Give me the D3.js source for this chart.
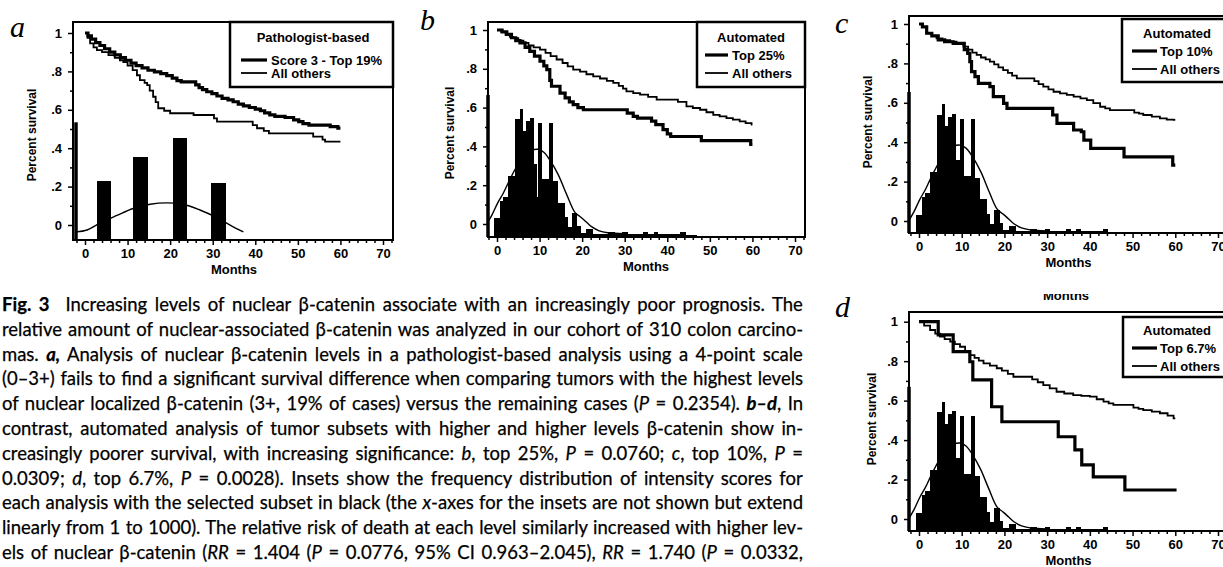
<!DOCTYPE html>
<html>
<head>
<meta charset="utf-8">
<script src="https://cdn.jsdelivr.net/npm/d3@7"></script>
<style>
  body { margin: 0; background: #fff; }
  svg { display: block; }
  .tick text { font: bold 13px "Liberation Sans", Arial, sans-serif; fill: #000; }
  .tick line { stroke: #000; stroke-width: 1.5; }
  .lab { font: bold 13px "Liberation Sans", Arial, sans-serif; fill: #000; }
  .cap { font-family: Lato, "Open Sans", sans-serif; font-size: 18px; fill: #000; stroke: #000; stroke-width: 0.25px; }
</style>
</head>
<body>
<svg id="fig" width="1223" height="567"></svg>
<script>
// Values: [month, survival]
const xTickLabels = [0, 10, 20, 30, 40, 50, 60, 70];
const yTickValues = [0, 0.2, 0.4, 0.6, 0.8, 1];
const legendTitles = ["Pathologist-based", "Automated", "Automated", "Automated"];
const subsetLabels = ["Score 3 - Top 19%", "Top 25%", "Top 10%", "Top 6.7%"];
const othersLabel = "All others";

const survSubsetA = [[0,1],[0.7,.985],[1.5,.968],[2.5,.95],[3.5,.935],[4.6,.918],[5.8,.9],[7,.886],[8.3,.872],
  [9.5,.858],[10.8,.843],[12,.83],[13.4,.818],[14.8,.806],[16.3,.798],[17.8,.788],[19.2,.778],[20.5,.765],
  [21.6,.752],[22.6,.745],[26,.73],[26.8,.716],[27.6,.705],[28.6,.694],[29.8,.684],[31,.672],[32.2,.66],
  [33.6,.652],[34.8,.642],[36,.63],[37.2,.62],[38.6,.612],[40,.604],[41.2,.595],[42.2,.584],[43.4,.574],
  [44.6,.566],[47,.56],[49,.548],[50.2,.538],[51.2,.528],[52.6,.52],[57.6,.512],[59.4,.505],[60,.505]];
const survOthersA = [[0,1],[0.6,.975],[1.2,.946],[2,.925],[2.8,.911],[4,.9],[5.5,.885],[7,.87],[8.2,.858],
  [9,.848],[10,.83],[11.2,.807],[12.2,.78],[12.9,.755],[14,.74],[14.6,.729],[15.2,.7],[16,.668],[16.6,.64],
  [17.2,.608],[18.6,.595],[20,.582],[25.5,.573],[30.3,.555],[31,.538],[39.4,.52],[40.4,.504],[42,.49],
  [43.2,.477],[53.6,.46],[55.8,.445],[56.4,.434],[60,.434]];

const survSubsetB = [[0,1],[1.2,.99],[2.3,.977],[3.4,.96],[4.4,.945],[5.4,.934],[6.6,.91],[7.7,.89],[8.8,.865],
  [10.1,.839],[11,.815],[11.7,.796],[12.4,.74],[12.8,.71],[14.8,.675],[16,.65],[17,.63],[17.9,.615],[19,.6],
  [20.3,.589],[30.6,.572],[32,.555],[33,.546],[36.3,.53],[37.3,.512],[39,.486],[40,.465],[40.8,.451],
  [48,.43],[59.6,.41],[60,.41]];
const survOthersB = [[0,1],[1,.99],[2,.975],[3,.965],[3.8,.958],[5,.945],[6.2,.934],[7.4,.92],[8.6,.91],
  [10.1,.899],[11.4,.882],[12.6,.865],[14,.848],[15.4,.83],[16.6,.812],[17.9,.796],[19.5,.785],[21,.772],
  [22.6,.761],[24.2,.75],[25.8,.738],[27.3,.727],[28.6,.712],[29.6,.698],[30.4,.684],[32,.675],[33.6,.667],
  [35.5,.655],[37.5,.641],[42.5,.63],[44.5,.606],[46,.598],[47.7,.589],[49.2,.576],[50.8,.563],[52.3,.555],
  [53.9,.546],[55.4,.538],[57,.529],[58.4,.52],[59.8,.512],[60,.512]];

const survSubsetC = [[0,1],[0.8,.985],[1.8,.953],[3,.94],[4.5,.919],[6,.91],[8,.902],[10.6,.87],[11.4,.851],
  [11.9,.809],[12.3,.758],[13.1,.733],[13.9,.699],[16.6,.682],[17.4,.631],[19.8,.597],[20.6,.572],
  [31.3,.538],[32.3,.496],[36.2,.462],[38,.453],[38.6,.411],[40.2,.369],[48,.326],[59.4,.284],[60,.284]];
const survOthersC = [[0,1],[0.8,.985],[1.8,.953],[3,.94],[4.1,.927],[5.5,.918],[7.3,.91],[8.8,.9],[10.4,.885],
  [11.5,.87],[12.5,.855],[13.5,.843],[14.5,.83],[15.6,.82],[16.6,.809],[17.6,.795],[18.6,.78],[19.7,.766],
  [20.8,.752],[21.8,.738],[22.9,.724],[27,.71],[28,.695],[29.1,.682],[30.3,.668],[31.5,.656],[33,.648],
  [34.6,.64],[36.2,.631],[37.8,.622],[39.3,.614],[40.8,.598],[42.4,.58],[43.6,.572],[44.7,.563],[50.4,.55],
  [51.5,.545],[52.5,.538],[54.5,.53],[56.4,.521],[58,.515],[59.6,.513],[60,.513]];

const survSubsetD = [[0,1],[4.5,.933],[8,.848],[11.9,.797],[12.6,.705],[17,.569],[19.4,.493],[32.6,.417],
  [36.5,.35],[38.1,.274],[40.8,.214],[48.2,.147],[60.3,.147]];
const survOthersD = [[0,1],[1.2,.98],[2.6,.958],[3.8,.94],[4.9,.924],[6,.912],[7.3,.899],[8.4,.886],[9.6,.873],
  [10.8,.852],[11.9,.831],[13,.817],[14,.803],[15.1,.789],[16.6,.777],[18.2,.764],[19.4,.752],[20.8,.736],
  [22.1,.721],[26.5,.708],[27.8,.693],[29.1,.679],[30.6,.662],[32.2,.645],[34,.636],[36.1,.628],[38,.624],
  [40,.62],[41.6,.607],[43.2,.595],[44.4,.586],[45.5,.578],[50.2,.565],[51.4,.558],[52.5,.552],[54.5,.544],
  [56.4,.536],[58.2,.524],[59.6,.51],[60,.51]];

// Inset histograms, in the plot's own units: [from month, to month, top]
const histA = [[2.8,6.1,0.23],[11.3,14.8,0.355],[20.7,23.9,0.455],[29.6,33.1,0.22]];
const gaussA = [[-2.1,-0.036],[0.5,-0.026],[3.5,0.01],[7.5,0.05],[11.3,0.086],[15.3,0.108],[19.2,0.115],
  [23,0.108],[27,0.078],[31,0.038],[34.7,-0.008],[37.2,-0.036]];

const histAuto = [[-0.6,0.6,0.03],[0.6,1.4,0.12],[1.4,2.6,0.14],[2.6,4.2,0.25],[4.2,5.3,0.54],[5.3,6.0,0.595],
  [6.0,6.9,0.48],[6.9,7.7,0.53],[7.7,8.6,0.545],[8.6,9.4,0.31],[9.4,9.7,0.14],[9.7,10.5,0.52],[10.5,12.2,0.23],
  [12.2,13.1,0.52],[13.1,14.3,0.22],[14.3,15.8,0.11],[15.8,16.5,0.035],[16.5,17.6,-0.015],[17.6,18.8,0.057],
  [18.8,19.6,-0.01],[19.6,21.0,-0.045],[21.0,22.5,-0.025],[22.5,26.0,-0.05],[26.0,27.6,-0.042],
  [27.6,29.4,-0.05],[29.4,30.6,-0.042],[30.6,34.4,-0.052],[34.4,35.4,-0.042],[35.4,36.8,-0.052],
  [36.8,37.8,-0.042],[37.8,43.0,-0.053],[43.0,44.2,-0.04],[44.2,47.0,-0.055]];
const gaussAuto = [[-2.3,0.005],[-1.2,0.046],[0.2,0.11],[1.5,0.16],[2.6,0.21],[4.5,0.29],[6.5,0.35],[8.2,0.38],
  [9.6,0.385],[11,0.37],[12.4,0.33],[14.4,0.253],[16.4,0.15],[18.3,0.06],[19.7,0.035],[21,0.01],
  [22.3,-0.015],[24,-0.035],[26,-0.045],[30,-0.05]];

const captionLines = [
  "##Fig. 3##|Increasing levels of nuclear β-catenin associate with an increasingly poor prognosis. The",
  "relative amount of nuclear-associated β-catenin was analyzed in our cohort of 310 colon carcino-",
  "mas. **a,** Analysis of nuclear β-catenin levels in a pathologist-based analysis using a 4-point scale",
  "(0–3+) fails to find a significant survival difference when comparing tumors with the highest levels",
  "of nuclear localized β-catenin (3+, 19% of cases) versus the remaining cases (_P_ = 0.2354). **b–d**, In",
  "contrast, automated analysis of tumor subsets with higher and higher levels β-catenin show in-",
  "creasingly poorer survival, with increasing significance: _b_, top 25%, _P_ = 0.0760; _c_, top 10%, _P_ =",
  "0.0309; _d_, top 6.7%, _P_ = 0.0028). Insets show the frequency distribution of intensity scores for",
  "each analysis with the selected subset in black (the _x_-axes for the insets are not shown but extend",
  "linearly from 1 to 1000). The relative risk of death at each level similarly increased with higher lev-",
  "els of nuclear β-catenin (_RR_ = 1.404 (_P_ = 0.0776, 95% CI 0.963–2.045), _RR_ = 1.740 (_P_ = 0.0332,"
];

// Layout of each panel (pixels)
const panels = [
  { key: "a", subset: survSubsetA, others: survOthersA, hist: histA, gauss: gaussA,
    left: 73, right: 393, top: 22, bottom: 240, x0: 85, x70: 383, y1: 33, y0: 225, insetTop: 0.535, insetX: 76,
    label: [10, 37], yLab: [32, 135],
    legend: { x: 230, y: 22, w: 163, h: 65, tx: 313, ty: 37, rows: [60, 73], line: [241, 267], text: 271 } },
  { key: "b", subset: survSubsetB, others: survOthersB, hist: histAuto, gauss: gaussAuto,
    left: 488, right: 805, top: 22, bottom: 237, x0: 497, x70: 795, y1: 30, y0: 224, insetTop: 0.665, insetX: 488,
    label: [420, 30], yLab: [450, 133],
    legend: { x: 697, y: 22, w: 108, h: 65, tx: 751, ty: 37, rows: [55, 73], line: [705, 728], text: 732 } },
  { key: "c", subset: survSubsetC, others: survOthersC, hist: histAuto, gauss: gaussAuto,
    left: 909, right: 1240, top: 16, bottom: 233, x0: 919, x70: 1218, y1: 24, y0: 221, insetTop: 0.655, insetX: 909,
    label: [835, 33], yLab: [868, 122],
    legend: { x: 1122, y: 19, w: 120, h: 63, tx: 1177, ty: 33, rows: [51, 69], line: [1132, 1157], text: 1160 } },
  { key: "d", subset: survSubsetD, others: survOthersD, hist: histAuto, gauss: gaussAuto,
    left: 909, right: 1240, top: 312, bottom: 531, x0: 919, x70: 1218, y1: 321.7, y0: 519, insetTop: 0.67, insetX: 909,
    label: [835, 317], yLab: [872, 419],
    legend: { x: 1123, y: 317, w: 120, h: 60, tx: 1177, ty: 330, rows: [348, 366], line: [1132, 1157], text: 1160 } }
];

const svg = d3.select("#fig");
svg.append("rect").attr("width", 1223).attr("height", 567).attr("fill", "#fff");

const yFmt = d => d === 0 ? "0" : d === 1 ? "1" : "." + Math.round(d * 10);

panels.forEach((p, i) => {
  const x = d3.scaleLinear().domain([0, 70]).range([p.x0, p.x70]);
  const y = d3.scaleLinear().domain([0, 1]).range([p.y0, p.y1]);
  const floor = y.invert(p.bottom);
  const g = svg.append("g").attr("class", "panel-" + p.key);

  // inset histogram
  g.selectAll("rect.bin").data(p.hist).join("rect")
    .attr("class", "bin")
    .attr("x", d => x(d[0]))
    .attr("width", d => x(d[1]) - x(d[0]) + 0.4)
    .attr("y", d => y(d[2]))
    .attr("height", d => y(floor) - y(d[2]))
    .attr("shape-rendering", "crispEdges")
    .attr("fill", "#000");

  g.append("path")
    .attr("fill", "none").attr("stroke", "#000").attr("stroke-width", 1.4)
    .attr("d", d3.line().x(d => x(d[0])).y(d => y(d[1])).curve(d3.curveCatmullRom)(p.gauss));

  // inset axis
  g.append("line")
    .attr("x1", p.insetX).attr("x2", p.insetX)
    .attr("y1", y(p.insetTop)).attr("y2", p.bottom)
    .attr("stroke", "#000").attr("stroke-width", 3.5);

  // survival curves
  const km = d3.line().x(d => x(d[0])).y(d => y(d[1])).curve(d3.curveStepAfter);
  g.append("path").attr("fill", "none").attr("stroke", "#000").attr("stroke-width", 1.8)
    .attr("d", km(p.others));
  g.append("path").attr("fill", "none").attr("stroke", "#000").attr("stroke-width", 3.2)
    .attr("d", km(p.subset));

  // frame
  g.append("rect")
    .attr("x", p.left).attr("y", p.top)
    .attr("width", p.right - p.left).attr("height", p.bottom - p.top)
    .attr("fill", "none").attr("stroke", "#000").attr("stroke-width", 2);

  // axes
  g.append("g").attr("transform", `translate(${p.left},0)`)
    .call(d3.axisLeft(y).tickValues(yTickValues).tickFormat(yFmt).tickSize(5).tickPadding(6))
    .call(a => a.select(".domain").remove());
  g.append("g").attr("transform", `translate(${p.left},0)`)
    .call(d3.axisLeft(y).tickValues(d3.range(0.1, 1, 0.2)).tickFormat("").tickSize(3))
    .call(a => a.select(".domain").remove());
  g.append("g").attr("transform", `translate(0,${p.bottom})`)
    .call(d3.axisBottom(x).tickValues(xTickLabels).tickSize(5).tickPadding(4))
    .call(a => a.select(".domain").remove());
  g.append("g").attr("transform", `translate(0,${p.bottom})`)
    .call(d3.axisBottom(x).tickValues(d3.range(-2, 73, 2).filter(v => v % 10 !== 0)).tickFormat("").tickSize(3))
    .call(a => a.select(".domain").remove());

  g.append("text").attr("class", "lab")
    .attr("x", x(35)).attr("y", p.bottom + 34)
    .attr("text-anchor", "middle").text("Months");

  g.append("text").attr("class", "lab").style("font-size", "12px")
    .attr("transform", `translate(${p.yLab[0]},${p.yLab[1]}) rotate(-90)`)
    .attr("text-anchor", "middle").attr("dy", "0.35em")
    .text("Percent survival");

  // panel letter
  svg.append("text")
    .attr("x", p.label[0]).attr("y", p.label[1])
    .style("font", "italic 30px 'Liberation Serif', 'DejaVu Serif', serif")
    .text(p.key);

  // legend
  const L = p.legend;
  const lg = g.append("g");
  lg.append("rect").attr("x", L.x).attr("y", L.y).attr("width", L.w).attr("height", L.h)
    .attr("fill", "#fff").attr("stroke", "#000").attr("stroke-width", 2.5);
  lg.append("text").attr("class", "lab").attr("x", L.tx).attr("y", L.ty + 4.6)
    .attr("text-anchor", "middle").text(legendTitles[i]);
  [[subsetLabels[i], 3.2], [othersLabel, 1.8]].forEach((r, k) => {
    lg.append("line").attr("x1", L.line[0]).attr("x2", L.line[1])
      .attr("y1", L.rows[k]).attr("y2", L.rows[k])
      .attr("stroke", "#000").attr("stroke-width", r[1]);
    lg.append("text").attr("class", "lab").attr("x", L.text).attr("y", L.rows[k] + 4.6).text(r[0]);
  });
});

// cut-off "Months" fragment above panel d
svg.append("clipPath").attr("id", "cutMonths")
  .append("rect").attr("x", 1030).attr("y", 294).attr("width", 80).attr("height", 12);
svg.append("text").attr("class", "lab").attr("clip-path", "url(#cutMonths)")
  .attr("x", 1066).attr("y", 300).attr("text-anchor", "middle").text("Months");

// caption: fit the font to the column, then justify each line
const capLeft = 2, capRight = 803, capW = capRight - capLeft;
const capNodes = captionLines.map((line, i) => {
  const t = svg.append("text").attr("class", "cap")
    .attr("x", capLeft).attr("y", 311 + i * 24.8);
  let extra = 0;
  line.split(/(##[^#]+##|\*\*[^*]+\*\*|_[^_]+_|\|)/).filter(s => s.length).forEach(s => {
    if (s === "|") { extra = 16; return; }
    const sp = t.append("tspan");
    if (s.startsWith("##")) sp.style("font-weight", "bold").text(s.slice(2, -2));
    else if (s.startsWith("**")) sp.style("font-weight", "bold").style("font-style", "italic").text(s.slice(2, -2));
    else if (s.startsWith("_")) sp.style("font-style", "italic").text(s.slice(1, -1));
    else sp.text(s);
    if (extra) sp.attr("dx", extra);
    extra = 0;
  });
  return t;
});
const widest = d3.max(capNodes, t => t.node().getBBox().width);
const capSize = 18 * capW / widest * 0.985;
capNodes.forEach(t => {
  t.style("font-size", capSize + "px");
  const w = t.node().getBBox().width;
  const spaces = (t.text().match(/ /g) || []).length;
  t.style("word-spacing", ((capW - w) / spaces) + "px");
});
</script>
</body>
</html>
